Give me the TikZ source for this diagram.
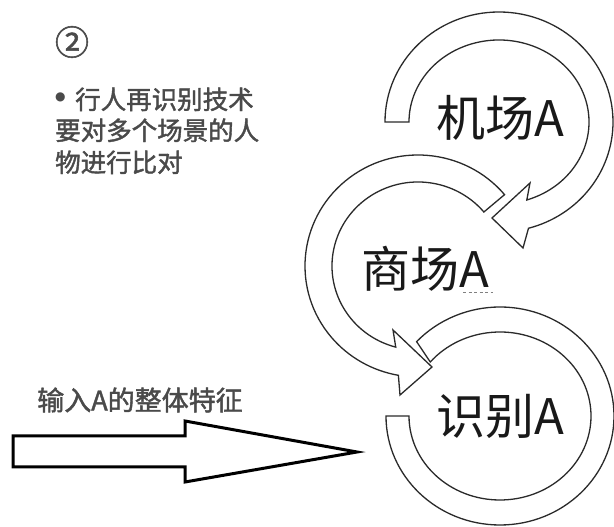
\documentclass[tikz,border=0pt]{standalone}
\usepackage{fontspec}
\setmainfont{Noto Sans CJK SC}
\newfontfamily\boldcjk[FakeBold=1.6]{Noto Sans CJK SC}
\newfontfamily\symfont{DejaVu Sans}
\usetikzlibrary{calc}
\definecolor{txtgray}{HTML}{4A4A4A}
\definecolor{lncol}{HTML}{2A2A2A}
\begin{document}
\begin{tikzpicture}[x=1pt,y=1pt,
  arrowshape/.style={draw=lncol,line width=1.3pt,fill=white,line join=miter},
  biglabel/.style={inner sep=0pt,text=black!90,font=\fontsize{49}{50}\selectfont},
  sidetext/.style={inner sep=0pt,anchor=base west,text=txtgray,font=\boldcjk\fontsize{25.5}{30}\selectfont}]
\useasboundingbox (0,0) rectangle (614,527);
\fill[white] (0,0) rectangle (614,527);
% centres
\coordinate (C1) at (499,405);
\coordinate (C2) at (418,261);
\coordinate (C3) at (500,111);
% circle 3 (识别A)
\draw[arrowshape] ($(C3)+(180:114 and 109)$)
  arc[start angle=180,end angle=497,x radius=114,y radius=109]
  -- ($(C3)+(140:91 and 84)$)
  arc[start angle=500,end angle=180,x radius=91,y radius=84] -- cycle;
% circle 2 (商场A)
\draw[arrowshape] ($(C2)+(40:113 and 111)$)
  arc[start angle=40,end angle=260,x radius=113,y radius=111]
  -- (400,132) -- (432,160) -- (393,197)
  -- ($(C2)+(255:86 and 84)$)
  arc[start angle=255,end angle=40,x radius=86,y radius=84] -- cycle;
% circle 1 (机场A)
\draw[arrowshape] ($(C1)+(180:114 and 110)$)
  arc[start angle=180,end angle=-75,x radius=114,y radius=110]
  -- (523,279) -- (492,309) -- (530,344)
  -- ($(C1)+(-72:90 and 82)$)
  arc[start angle=-72,end angle=180,x radius=90,y radius=82] -- cycle;
% labels
\node[biglabel] (lab1) at (500,409) {机场A};
\node[biglabel] (lab2) at (425,258) {商场A};
\node[biglabel] (lab3) at (500,111) {识别A};
\coordinate (u1) at (463,234);
\coordinate (u2) at (493,234);
\draw[gray,line width=1pt,dash pattern=on 3pt off 2.5pt] (u1) -- (u2);
% left texts
\node[inner sep=0pt,text=txtgray,font=\boldcjk\fontsize{34}{34}\selectfont] (num) at (72,485) {②};
\node[sidetext] (l1) at (55,418) {\makebox[20pt][l]{\raisebox{8pt}{\symfont\fontsize{12}{12}\selectfont ●}}行人再识别技术};
\node[sidetext] (l2) at (55,387) {要对多个场景的人};
\node[sidetext] (l3) at (55,355) {物进行比对};
\node[inner sep=0pt,text=txtgray,font=\boldcjk\fontsize{27}{30}\selectfont] (inp) at (140,127) {输入A的整体特征};
% big input arrow
\draw[draw=black,line width=3pt,fill=white,line join=miter]
  (13,60) -- (185,60) -- (185,45) -- (357,75) -- (185,106) -- (185,91) -- (13,91) -- cycle;
\end{tikzpicture}
\end{document}
